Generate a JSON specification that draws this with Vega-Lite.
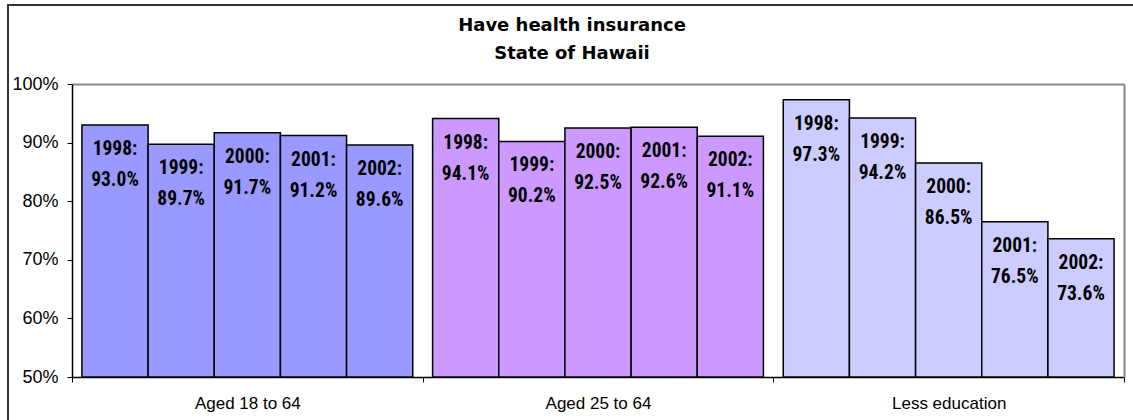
{
  "$schema": "https://vega.github.io/schema/vega-lite/v6.json",
  "width": 1140,
  "height": 420,
  "autosize": {"type": "none"},
  "padding": {"left": 8, "top": 5, "right": 0, "bottom": 0},
  "background": "white",
  "title": {
    "text": ["Have health insurance", "State of Hawaii"],
    "anchor": "middle",
    "frame": "group",
    "orient": "top",
    "baseline": "top",
    "offset": -58,
    "dx": -6,
    "fontSize": 18,
    "font": "DejaVu Sans",
    "fontWeight": "bold",
    "lineHeight": 28,
    "color": "black"
  },
  "config": {
    "view": {"stroke": "#333333", "strokeWidth": 2},
    "font": "Liberation Sans"
  },
  "data": {
    "values": [
      {"group": "Aged 18 to 64", "year": "1998", "value": 0.930},
      {"group": "Aged 18 to 64", "year": "1999", "value": 0.897},
      {"group": "Aged 18 to 64", "year": "2000", "value": 0.917},
      {"group": "Aged 18 to 64", "year": "2001", "value": 0.912},
      {"group": "Aged 18 to 64", "year": "2002", "value": 0.896},
      {"group": "Aged 25 to 64", "year": "1998", "value": 0.941},
      {"group": "Aged 25 to 64", "year": "1999", "value": 0.902},
      {"group": "Aged 25 to 64", "year": "2000", "value": 0.925},
      {"group": "Aged 25 to 64", "year": "2001", "value": 0.926},
      {"group": "Aged 25 to 64", "year": "2002", "value": 0.911},
      {"group": "Less education", "year": "1998", "value": 0.973},
      {"group": "Less education", "year": "1999", "value": 0.942},
      {"group": "Less education", "year": "2000", "value": 0.865},
      {"group": "Less education", "year": "2001", "value": 0.765},
      {"group": "Less education", "year": "2002", "value": 0.736}
    ]
  },
  "layer": [
    {
      "mark": {"type": "bar", "stroke": "black", "strokeWidth": 1.5},
      "encoding": {
        "x": {
          "field": "group", "type": "nominal",
          "scale": {"range": [64, 1116], "paddingInner": 0, "paddingOuter": 0},
          "axis": {
            "orient": "bottom", "offset": -48, "tickBand": "extent",
            "domainColor": "black", "domainWidth": 1.5,
            "tickColor": "black", "tickSize": 5, "tickWidth": 1,
            "labelPadding": 13, "labelFontSize": 17, "labelAngle": 0,
            "labelColor": "black", "labelFont": "Liberation Sans",
            "title": null, "grid": false
          }
        },
        "xOffset": {"field": "year", "type": "nominal", "scale": {"paddingInner": 0, "paddingOuter": 0.15}},
        "y": {
          "field": "value", "type": "quantitative",
          "scale": {"domain": [0.5, 1], "range": [372, 79], "zero": false, "nice": false},
          "axis": {
            "orient": "left", "offset": -64,
            "values": [0.5, 0.6, 0.7, 0.8, 0.9, 1],
            "format": ".0%",
            "domainColor": "black", "domainWidth": 1.5,
            "tickColor": "black", "tickSize": 5, "tickWidth": 1,
            "labelPadding": 9, "labelFontSize": 18,
            "labelColor": "black", "labelFont": "Liberation Sans",
            "title": null, "grid": false
          }
        },
        "y2": {"datum": 0.5},
        "color": {
          "field": "group", "type": "nominal",
          "scale": {"domain": ["Aged 18 to 64", "Aged 25 to 64", "Less education"], "range": ["#9999FF", "#CC99FF", "#CCCCFF"]},
          "legend": null
        }
      }
    },
    {
      "mark": {"type": "text", "baseline": "alphabetic", "align": "center", "dy": 30, "fontSize": 19.5, "fontWeight": "bold", "font": "Roboto Condensed, Roboto", "color": "black"},
      "encoding": {
        "x": {
          "field": "group", "type": "nominal",
          "scale": {"range": [64, 1116], "paddingInner": 0, "paddingOuter": 0},
          "axis": {"orient": "top", "offset": -79, "domainColor": "#888888", "domainWidth": 2, "ticks": false, "labels": false, "title": null, "grid": false}
        },
        "xOffset": {"field": "year", "type": "nominal", "scale": {"paddingInner": 0, "paddingOuter": 0.15}},
        "y": {
          "field": "value", "type": "quantitative",
          "scale": {"domain": [0.5, 1], "range": [372, 79], "zero": false, "nice": false},
          "axis": {"orient": "right", "offset": -24, "domainColor": "#888888", "domainWidth": 2, "ticks": false, "labels": false, "title": null, "grid": false}
        },
        "text": {"field": "year", "type": "temporal", "timeUnit": "utcyear", "format": "%Y:"}
      }
    },
    {
      "mark": {"type": "text", "baseline": "alphabetic", "align": "center", "dy": 61, "fontSize": 19.5, "fontWeight": "bold", "font": "Roboto Condensed, Roboto", "color": "black"},
      "encoding": {
        "x": {
          "field": "group", "type": "nominal",
          "scale": {"range": [64, 1116], "paddingInner": 0, "paddingOuter": 0},
          "axis": null
        },
        "xOffset": {"field": "year", "type": "nominal", "scale": {"paddingInner": 0, "paddingOuter": 0.15}},
        "y": {
          "field": "value", "type": "quantitative",
          "scale": {"domain": [0.5, 1], "range": [372, 79], "zero": false, "nice": false},
          "axis": null
        },
        "text": {"field": "value", "type": "quantitative", "format": ".1%"}
      }
    }
  ],
  "resolve": {"axis": {"x": "independent", "y": "independent"}}
}
